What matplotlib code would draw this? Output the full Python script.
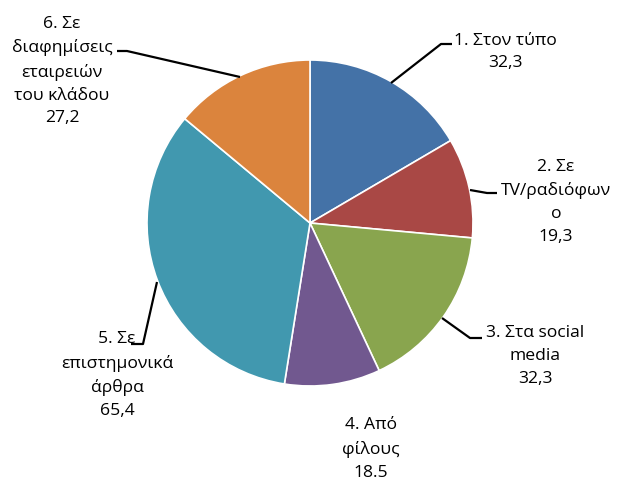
import matplotlib
matplotlib.use("Agg")
import matplotlib.pyplot as plt

categories = ["1. Στον τύπο", "2. Σε\nTV/ραδιόφων\nο", "3. Στα social\nmedia",
              "4. Από\nφίλους", "5. Σε\nεπιστημονικά\nάρθρα",
              "6. Σε\nδιαφημίσεις\nεταιρειών\nτου κλάδου"]
values = [32.3, 19.3, 32.3, 18.5, 65.4, 27.2]
value_labels = ["32,3", "19,3", "32,3", "18.5", "65,4", "27,2"]
colors = ["#4472A7", "#A94845", "#89A54E", "#71588F", "#4198AF", "#DB843D"]

W, H = 617, 480
fig = plt.figure(figsize=(W / 100, H / 100), dpi=100)
ax = fig.add_axes([0, 0, 1, 1])
ax.set_xlim(0, W)
ax.set_ylim(0, H)
ax.set_aspect("equal")
ax.axis("off")

cx, cy, r = 310, H - 223, 163
ax.pie(values, colors=colors, startangle=90, counterclock=False,
       center=(cx, cy), radius=r,
       wedgeprops=dict(edgecolor="white", linewidth=1.2))
ax.set_xlim(0, W)
ax.set_ylim(0, H)

# label positions (pixel coords, y from top) and leader lines
label_pos = [(505, 52), (556, 202), (535, 356), (371, 449), (117, 375), (62, 71)]
leaders = [
    [(391, 83), (441, 44), (452, 44)],
    [(470, 190), (487, 193), (497, 193)],
    [(442, 318), (470, 338), (482, 338)],
    None,
    [(157, 282), (143, 344), (131, 344)],
    [(240, 77), (127, 51), (117, 51)],
]

font = ["Open Sans", "DejaVu Sans"]
for cat, val, (x, y), ld in zip(categories, value_labels, label_pos, leaders):
    ax.text(x, H - y, cat + "\n" + val, ha="center", va="center",
            fontsize=12.6, family=font, linespacing=1.58, color="#000000")
    if ld:
        xs = [p[0] for p in ld]
        ys = [H - p[1] for p in ld]
        ax.plot(xs, ys, color="black", lw=1.6, solid_capstyle="butt")

fig.savefig("out.png", dpi=100)
